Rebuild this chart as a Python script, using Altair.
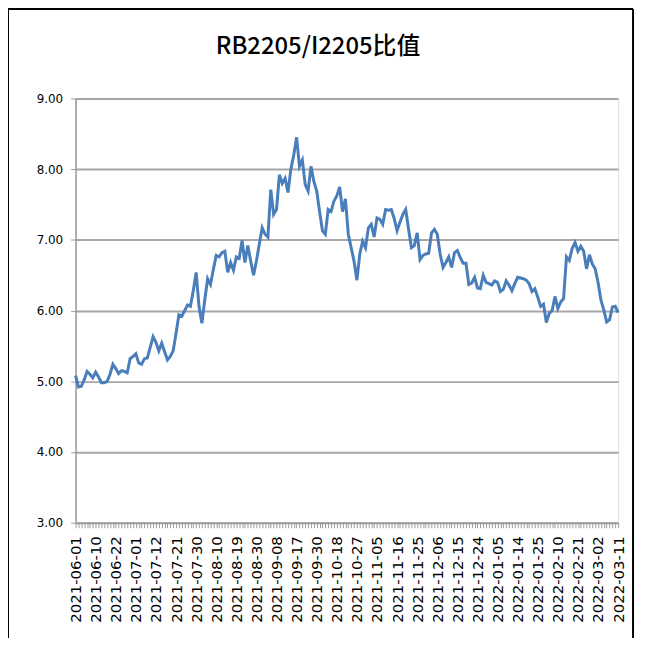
import altair as alt
import pandas as pd

# ---- data -------------------------------------------------------------
holidays = ["2021-06-14", "2021-09-20", "2021-09-21", "2021-10-01", "2021-10-04",
            "2021-10-05", "2021-10-06", "2021-10-07", "2022-01-03", "2022-01-31",
            "2022-02-01", "2022-02-02", "2022-02-03", "2022-02-04"]

ratio = [
    5.08, 4.92, 4.93, 5.02, 5.14, 5.10, 5.05, 5.13, 5.06, 4.98,
    4.98, 5.00, 5.10, 5.24, 5.18, 5.11, 5.15, 5.14, 5.12, 5.32,
    5.35, 5.39, 5.26, 5.24, 5.32, 5.33, 5.48, 5.63, 5.55, 5.43,
    5.54, 5.42, 5.30, 5.35, 5.43, 5.68, 5.94, 5.92, 6.00, 6.08,
    6.06, 6.28, 6.54, 6.06, 5.82, 6.15, 6.45, 6.37, 6.58, 6.78,
    6.76, 6.82, 6.84, 6.54, 6.68, 6.57, 6.76, 6.74, 6.99, 6.68,
    6.92, 6.70, 6.50, 6.70, 6.94, 7.17, 7.08, 7.04, 7.71, 7.36,
    7.43, 7.92, 7.80, 7.87, 7.67, 8.00, 8.20, 8.45, 8.04, 8.13,
    7.78, 7.69, 8.04, 7.83, 7.69, 7.40, 7.13, 7.08, 7.43, 7.40,
    7.55, 7.62, 7.75, 7.40, 7.58, 7.08, 6.89, 6.70, 6.43, 6.80,
    6.98, 6.89, 7.17, 7.22, 7.04, 7.31, 7.29, 7.22, 7.43, 7.42,
    7.43, 7.30, 7.13, 7.25, 7.36, 7.43, 7.15, 6.89, 6.92, 7.10,
    6.72, 6.78, 6.80, 6.81, 7.10, 7.15, 7.08, 6.80, 6.61, 6.68,
    6.76, 6.61, 6.82, 6.85, 6.75, 6.67, 6.67, 6.37, 6.39, 6.47,
    6.32, 6.31, 6.50, 6.40, 6.38, 6.36, 6.42, 6.40, 6.27, 6.30,
    6.42, 6.36, 6.28, 6.38, 6.47, 6.46, 6.45, 6.43, 6.38, 6.27,
    6.31, 6.19, 6.06, 6.09, 5.83, 5.96, 6.00, 6.20, 6.03, 6.12,
    6.17, 6.76, 6.71, 6.88, 6.96, 6.84, 6.91, 6.84, 6.59, 6.79,
    6.66, 6.59, 6.40, 6.15, 6.01, 5.84, 5.87, 6.05, 6.06, 5.97,
]

y_ticks = [3, 4, 5, 6, 7, 8, 9]
title_text = ["RB2205/I2205比值"]

days = pd.bdate_range("2021-06-01", "2022-03-11")
days = [d.strftime("%Y-%m-%d") for d in days if d.strftime("%Y-%m-%d") not in holidays]
assert len(days) == len(ratio)
label_dates = days[::7]

df = pd.DataFrame({"date": days, "ratio": ratio})

# ---- chart ------------------------------------------------------------
label_list = "[" + ",".join("'" + d + "'" for d in label_dates) + "]"

line = alt.Chart(df).mark_line(color="#4A7EBB", strokeWidth=3, clip=False).encode(
    x=alt.X("date:O", sort=None,
            scale=alt.Scale(type="point", padding=0),
            axis=alt.Axis(title=None, labelAngle=270, labelAlign="right",
                          labelBaseline="middle", labelPadding=8,
                          labelFont="DejaVu Sans", labelFontSize=15, labelColor="#000",
                          labelOverlap=False, labelBound=False,
                          labelExpr=f"indexof({label_list}, datum.value) >= 0 ? datum.value : ''",
                          tickSize=5, tickColor="#9a9a9a", tickWidth=1,
                          domainColor="#9a9a9a", domainWidth=1.5, grid=False)),
    y=alt.Y("ratio:Q",
            scale=alt.Scale(domain=[3, 9], nice=False, zero=False),
            axis=alt.Axis(title=None, values=y_ticks, format=".2f",
                          labelFont="DejaVu Sans", labelFontSize=12, labelColor="#000",
                          labelPadding=8, tickSize=5, tickColor="#9a9a9a",
                          domainColor="#9a9a9a", domainWidth=1.5,
                          grid=True, gridColor="#a6a6a6", gridWidth=2)),
)

title_src = alt.Data(values=[{"t": t} for t in title_text])
title = alt.Chart(title_src).mark_text(
    font="Noto Sans CJK SC", fontSize=24, fontWeight=500, color="#000",
    align="center", baseline="alphabetic", clip=False,
).encode(text="t:N", x=alt.value(244), y=alt.value(-45))

frame_src = alt.Data(values=[{"k": 1}])
frame_left = alt.Chart(frame_src).mark_rule(color="#000", strokeWidth=2, clip=False).encode(
    x=alt.value(-68), y=alt.value(-90), y2=alt.value(560))
frame_right = alt.Chart(frame_src).mark_rule(color="#000", strokeWidth=2, clip=False).encode(
    x=alt.value(561), y=alt.value(-90), y2=alt.value(560))
frame_top = alt.Chart(frame_src).mark_rule(color="#000", strokeWidth=2, clip=False).encode(
    x=alt.value(-68), x2=alt.value(561), y=alt.value(-90))

chart = alt.layer(line, title, frame_left, frame_right, frame_top).properties(
    width=546, height=427,
    autosize=alt.AutoSizeParams(type="none"),
    padding={"left": 68, "top": 89, "right": 20, "bottom": 114},
).configure_view(stroke=None).configure(background="white")

chart.save("out.html", embed_options={"renderer": "svg", "actions": False})
